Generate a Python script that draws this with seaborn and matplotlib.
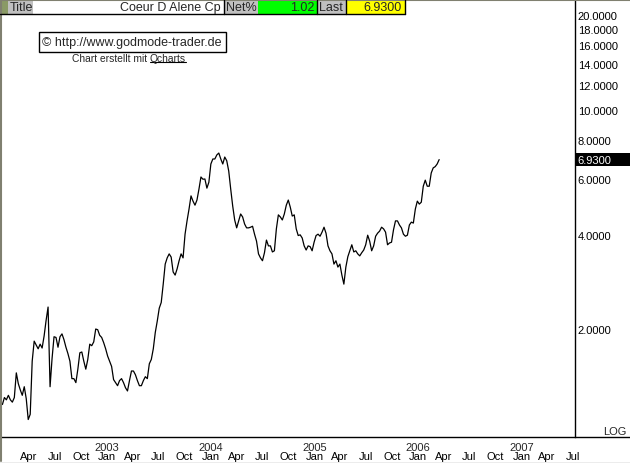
# IMPORT LIBRARIES
import pandas as pd
import numpy as np
import matplotlib.pyplot as plt
import matplotlib.dates as mdates
import seaborn as sns
from matplotlib.patches import Rectangle
from matplotlib.lines import Line2D
from matplotlib.ticker import FixedLocator, FuncFormatter, NullLocator

# DATA (weekly closes)
title = "Coeur D Alene Cp"
net_pct = "1.02"
last_price = 6.93
start_date = "2001-12-28"
close = [
    1.15, 1.21, 1.19, 1.23, 1.19, 1.17, 1.21, 1.45, 1.34, 1.28,
    1.23, 1.31, 1.20, 1.03, 1.07, 1.58, 1.83, 1.78, 1.73, 1.79,
    1.74, 1.90, 2.13, 2.35, 1.31, 1.61, 1.89, 1.88, 1.75, 1.89,
    1.93, 1.85, 1.75, 1.67, 1.58, 1.39, 1.39, 1.35, 1.49, 1.68,
    1.69, 1.58, 1.49, 1.60, 1.79, 1.77, 1.82, 2.00, 1.99, 1.91,
    1.88, 1.81, 1.73, 1.64, 1.58, 1.52, 1.38, 1.35, 1.32, 1.37,
    1.39, 1.35, 1.30, 1.27, 1.37, 1.47, 1.47, 1.43, 1.37, 1.32,
    1.32, 1.37, 1.41, 1.39, 1.55, 1.60, 1.73, 1.95, 2.12, 2.33,
    2.43, 2.78, 3.22, 3.37, 3.47, 3.39, 3.04, 2.97, 3.11, 3.30,
    3.47, 3.37, 4.01, 4.42, 4.82, 5.31, 5.11, 4.96, 5.15, 5.58,
    6.10, 6.00, 6.01, 5.62, 5.87, 6.71, 6.96, 6.96, 7.17, 7.27,
    6.96, 6.71, 7.06, 6.87, 6.37, 5.58, 4.93, 4.45, 4.20, 4.42,
    4.65, 4.55, 4.32, 4.20, 4.20, 4.22, 4.25, 4.01, 3.81, 3.47,
    3.37, 3.30, 3.50, 3.84, 3.68, 3.68, 3.52, 3.55, 4.17, 4.62,
    4.55, 4.45, 4.65, 4.96, 5.15, 4.89, 4.58, 4.62, 4.17, 3.97,
    3.99, 3.90, 3.68, 3.57, 3.68, 3.66, 3.55, 3.78, 3.97, 4.01,
    3.95, 4.07, 4.22, 4.04, 3.68, 3.55, 3.47, 3.22, 3.30, 3.15,
    3.22, 2.97, 2.78, 3.15, 3.40, 3.55, 3.71, 3.52, 3.55, 3.47,
    3.42, 3.50, 3.57, 3.71, 3.98, 3.81, 3.55, 3.68, 3.95, 4.04,
    4.10, 4.22, 4.17, 4.07, 3.71, 3.76, 3.78, 4.14, 4.42, 4.42,
    4.29, 4.20, 4.01, 3.95, 3.98, 4.29, 4.38, 4.35, 4.82, 5.11,
    5.00, 5.07, 5.70, 5.96, 5.70, 5.70, 6.28, 6.52, 6.58, 6.71,
    6.93,
]
y_ticks = [2, 4, 6, 8, 10, 12, 14, 16, 18, 20]
years = [2003, 2004, 2005, 2006, 2007]

df = pd.DataFrame({
    "date": pd.date_range(start_date, periods=len(close), freq="W-FRI"),
    "close": close,
})

# FIGURE
sns.set_style("white")
plt.rcParams["font.family"] = ["Liberation Sans", "DejaVu Sans"]

W, H = 630, 464
fig = plt.figure(figsize=(W / 100, H / 100), dpi=100)
fig.patch.set_facecolor("white")
ax = fig.add_axes([1 / W, (H - 438) / H, 574 / W, 438 / H])

sns.lineplot(data=df, x="date", y="close", color="black", lw=0.9, ax=ax)
ax.set_yscale("log")
ax.set_ylim(0.906, 22.5)
ax.set_xlim(mdates.date2num(pd.Timestamp("2001-12-23")),
            mdates.date2num(pd.Timestamp("2007-07-09")))
ax.set_xlabel("")
ax.set_ylabel("")

# right price axis
ax.yaxis.tick_right()
ax.yaxis.set_major_locator(FixedLocator(y_ticks))
ax.yaxis.set_major_formatter(FuncFormatter(lambda v, p: f"{v:.4f}"))
ax.yaxis.set_minor_locator(NullLocator())
ax.tick_params(axis="y", length=0, pad=2, labelsize=8, colors="black")

# month ticks, years written above Jan
quarters = pd.date_range("2002-04-01", "2007-07-01", freq="QS")
ax.set_xticks(mdates.date2num(quarters))
ax.set_xticklabels([d.strftime("%b") for d in quarters])
ax.xaxis.set_minor_locator(NullLocator())
ax.tick_params(axis="x", length=0, pad=10.4, labelsize=8, colors="black")
for yr in years:
    ax.annotate(str(yr), xy=(mdates.date2num(pd.Timestamp(f"{yr}-01-01")), 0),
                xycoords=("data", "axes fraction"), xytext=(0, -7.2),
                textcoords="offset points", ha="center", va="center", fontsize=8)

for s in ["left", "top"]:
    ax.spines[s].set_visible(False)
ax.spines["right"].set_color("black")
ax.spines["right"].set_linewidth(1)
ax.spines["bottom"].set_visible(False)


def fx(x):
    return x / W


def fy(y):
    return 1 - y / H


# frame lines
fig.add_artist(Line2D([0, 1], [fy(438), fy(438)], color="black", lw=1))
fig.add_artist(Line2D([fx(0.5), fx(0.5)], [fy(0), fy(462)], color="#808070", lw=1.5))
fig.add_artist(Line2D([0, 1], [fy(0.5), fy(0.5)], color="#808070", lw=1.5))
fig.add_artist(Rectangle((0, 0), 1, fy(463), color="#ececec", lw=0))


# HEADER
def cell(x0, x1, color, text=None, ha="left"):
    fig.add_artist(Rectangle((fx(x0), fy(15)), fx(x1 - x0), 14 / H,
                             facecolor=color, edgecolor="none"))
    if text:
        tx = x0 + 2 if ha == "left" else x1 - 3
        fig.text(fx(tx), fy(8), text, ha=ha, va="center", fontsize=9)


cell(1, 8, "#8a9a66")
cell(8, 33, "#c0c0c0", "Title")
cell(33, 224, "white", title, ha="right")
cell(224, 258, "#c0c0c0", "Net%")
cell(258, 317, "#00ff00", net_pct, ha="right")
cell(317, 346, "#c0c0c0", "Last")
cell(346, 405, "#ffff00", f"{last_price:.4f}", ha="right")
fig.add_artist(Line2D([0, fx(405)], [fy(15), fy(15)], color="black", lw=1))
for xs in [224, 317, 346, 405]:
    fig.add_artist(Line2D([fx(xs), fx(xs)], [fy(1), fy(15)], color="black", lw=1))

# copyright box
fig.text(fx(132), fy(43), "\u00a9 http://www.godmode-trader.de", ha="center", va="center",
         fontsize=9, bbox=dict(boxstyle="square,pad=0.3", fc="white", ec="black", lw=1))
fig.text(fx(150), fy(59), "Chart erstellt mit ", ha="right", va="center", fontsize=7.4)
qt = fig.text(fx(150), fy(59), "Qcharts", ha="left", va="center", fontsize=7.4)
fig.canvas.draw()
bb = qt.get_window_extent()
fig.add_artist(Line2D([bb.x0 / W, bb.x1 / W], [(bb.y0 + 1) / H, (bb.y0 + 1) / H],
                      color="black", lw=0.8))

# last price marker on the axis
yp = ax.transData.transform((ax.get_xlim()[0], last_price))[1]
fig.add_artist(Rectangle((fx(575), (yp - 6.5) / H), fx(55), 13 / H, facecolor="black", lw=0))
fig.text(fx(577), yp / H, f"{last_price:.4f}", ha="left", va="center", fontsize=8, color="white")

fig.text(fx(626), fy(432), "LOG", ha="right", va="center", fontsize=8)

plt.savefig("out.png", dpi=100)
